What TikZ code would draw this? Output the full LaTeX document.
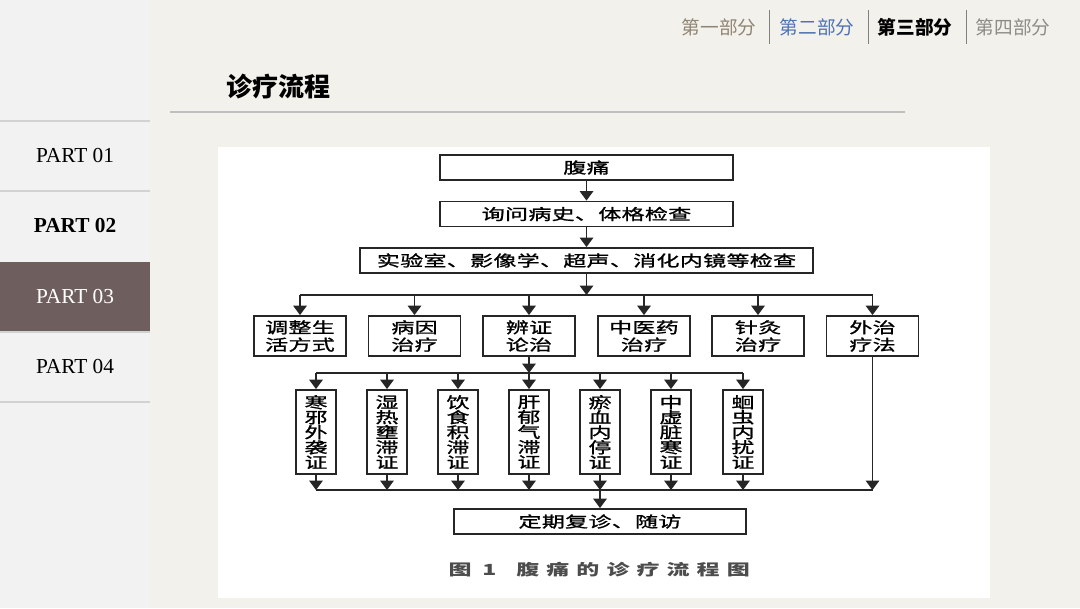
\documentclass[tikz,border=0pt]{standalone}
\usepackage{fontspec}
\setmainfont{Liberation Serif}
\newfontfamily\cjk{Noto Sans CJK SC}
\newfontfamily\chartfont[FakeStretch=1.5,LetterSpace=2,FakeBold=1.2]{Noto Sans CJK SC}
\newfontfamily\capfont[FakeStretch=1.5,LetterSpace=46]{Noto Sans CJK SC}
\usetikzlibrary{arrows.meta,positioning}
\definecolor{pagebg}{HTML}{F3F1EC}
\definecolor{panelbg}{HTML}{F2F2F2}
\definecolor{sepgray}{HTML}{D2D2D2}
\definecolor{partbrown}{HTML}{6E5F5E}
\definecolor{navbrown}{HTML}{8F8573}
\definecolor{navblue}{HTML}{4F72B5}
\definecolor{navgray}{HTML}{8C8C84}
\tikzset{
  box/.style={draw=black!85,line width=1.4pt,fill=white,inner sep=0pt,align=center,
    font=\chartfont\fontsize{11.5}{13}\selectfont},
  widebox/.style={box,minimum height=18.75pt},
  twobox/.style={box,minimum width=69pt,minimum height=30pt},
  colbox/.style={box,minimum width=30pt,minimum height=63pt,
    font=\chartfont\fontsize{11.5}{11.25}\selectfont},
  link/.style={->,line width=1.2pt,black!85},
  busline/.style={line width=1.2pt,black!85},
  navtext/.style={font=\cjk\fontsize{14}{16}\selectfont},
  parttext/.style={font=\fontsize{16}{18}\selectfont}
}
\begin{document}
\begin{tikzpicture}[x=0.75pt,y=-0.75pt,>={Triangle[width=10pt,length=7pt]}]
 \useasboundingbox (0,0) rectangle (1080,608);
 % background and side panel
 \fill[pagebg] (0,0) rectangle (1080,608);
 \fill[panelbg] (0,0) rectangle (150,608);
 \fill[partbrown] (0,262) rectangle (150,332);
 \draw[sepgray,line width=1.2pt] (0,121)--(150,121);
 \draw[sepgray,line width=1.2pt] (0,191)--(150,191);
 \draw[sepgray,line width=1.2pt] (0,332)--(150,332);
 \draw[sepgray,line width=1.2pt] (0,402)--(150,402);
 \node[parttext] (p1) at (75,156) {PART 01};
 \node[parttext,font=\bfseries\fontsize{16}{18}\selectfont] (p2) at (75,226) {PART 02};
 \node[parttext,white] (p3) at (75,296) {PART 03};
 \node[parttext] (p4) at (75,366) {PART 04};
 % top navigation
 \node[navtext,navbrown] (n1) at (719,27) {第一部分};
 \node[navtext,navblue] (n2) at (817,27) {第二部分};
 \node[navtext,font=\cjk\bfseries\fontsize{14}{16}\selectfont] (n3) at (915,27) {第三部分};
 \node[navtext,navgray] (n4) at (1013,27) {第四部分};
 \draw[gray,line width=0.6pt] (769,10)--(769,44);
 \draw[gray,line width=0.6pt] (868,10)--(868,44);
 \draw[gray,line width=0.6pt] (966,10)--(966,44);
 % title
 \node[anchor=west,font=\cjk\bfseries\fontsize{19.5}{22}\selectfont] (title) at (222,87) {诊疗流程};
 \draw[black!25,line width=0.8pt] (170,112)--(905,112);
 % picture panel
 \fill[white] (218,147) rectangle (990,598);
 % flow chart
 \node[widebox,minimum width=219.75pt] (fu) at (586.5,167.5) {腹痛};
 \node[widebox,minimum width=219.75pt] (xw) at (586.5,214) {询问病史、体格检查};
 \node[widebox,minimum width=339.75pt] (sy) at (586.5,260.5) {实验室、影像学、超声、消化内镜等检查};
 \node[twobox] (r1) at (300,336) {调整生\\活方式};
 \node[twobox] (r2) at (414.5,336) {病因\\治疗};
 \node[twobox] (r3) at (529,336) {辨证\\论治};
 \node[twobox] (r4) at (644,336) {中医药\\治疗};
 \node[twobox] (r5) at (758,336) {针灸\\治疗};
 \node[twobox] (r6) at (872.5,336) {外治\\疗法};
 \node[colbox] (c1) at (316,432) {寒\\邪\\外\\袭\\证};
 \node[colbox] (c2) at (387,432) {湿\\热\\壅\\滞\\证};
 \node[colbox] (c3) at (458,432) {饮\\食\\积\\滞\\证};
 \node[colbox] (c4) at (529,432) {肝\\郁\\气\\滞\\证};
 \node[colbox] (c5) at (600,432) {瘀\\血\\内\\停\\证};
 \node[colbox] (c6) at (671,432) {中\\虚\\脏\\寒\\证};
 \node[colbox] (c7) at (743,432) {蛔\\虫\\内\\扰\\证};
 \node[widebox,minimum width=219pt] (fz) at (600,521.5) {定期复诊、随访};
 \coordinate (b1) at (0,295);
 \coordinate (b2) at (0,373);
 \coordinate (b3) at (0,490);
 % connectors
 \draw[link] (fu)--(xw);
 \draw[link] (xw)--(sy);
 \draw[link] (sy.south)--(sy.south |- b1);
 \draw[busline] (r1.north |- b1)--(r6.north |- b1);
 \draw[link] (r1.north |- b1)--(r1.north);
 \draw[link] (r2.north |- b1)--(r2.north);
 \draw[link] (r3.north |- b1)--(r3.north);
 \draw[link] (r4.north |- b1)--(r4.north);
 \draw[link] (r5.north |- b1)--(r5.north);
 \draw[link] (r6.north |- b1)--(r6.north);
 \draw[link] (r3.south)--(r3.south |- b2);
 \draw[busline] (c1.north |- b2)--(c7.north |- b2);
 \draw[link] (c1.north |- b2)--(c1.north);
 \draw[link] (c2.north |- b2)--(c2.north);
 \draw[link] (c3.north |- b2)--(c3.north);
 \draw[link] (c4.north |- b2)--(c4.north);
 \draw[link] (c5.north |- b2)--(c5.north);
 \draw[link] (c6.north |- b2)--(c6.north);
 \draw[link] (c7.north |- b2)--(c7.north);
 \draw[link] (c1.south)--(c1.south |- b3);
 \draw[link] (c2.south)--(c2.south |- b3);
 \draw[link] (c3.south)--(c3.south |- b3);
 \draw[link] (c4.south)--(c4.south |- b3);
 \draw[link] (c5.south)--(c5.south |- b3);
 \draw[link] (c6.south)--(c6.south |- b3);
 \draw[link] (c7.south)--(c7.south |- b3);
 \draw[link] (r6.south)--(r6.south |- b3);
 \draw[busline] (c1.south |- b3)--(r6.south |- b3);
 \draw[link] (fz.north |- b3)--(fz.north);
 % caption
 \node[anchor=west,black!70,font=\capfont\bfseries\fontsize{11.5}{13}\selectfont] (cap) at (444,570)
   {图\hspace{8pt}1\hspace{15pt}腹痛的诊疗流程图};
\end{tikzpicture}
\end{document}
